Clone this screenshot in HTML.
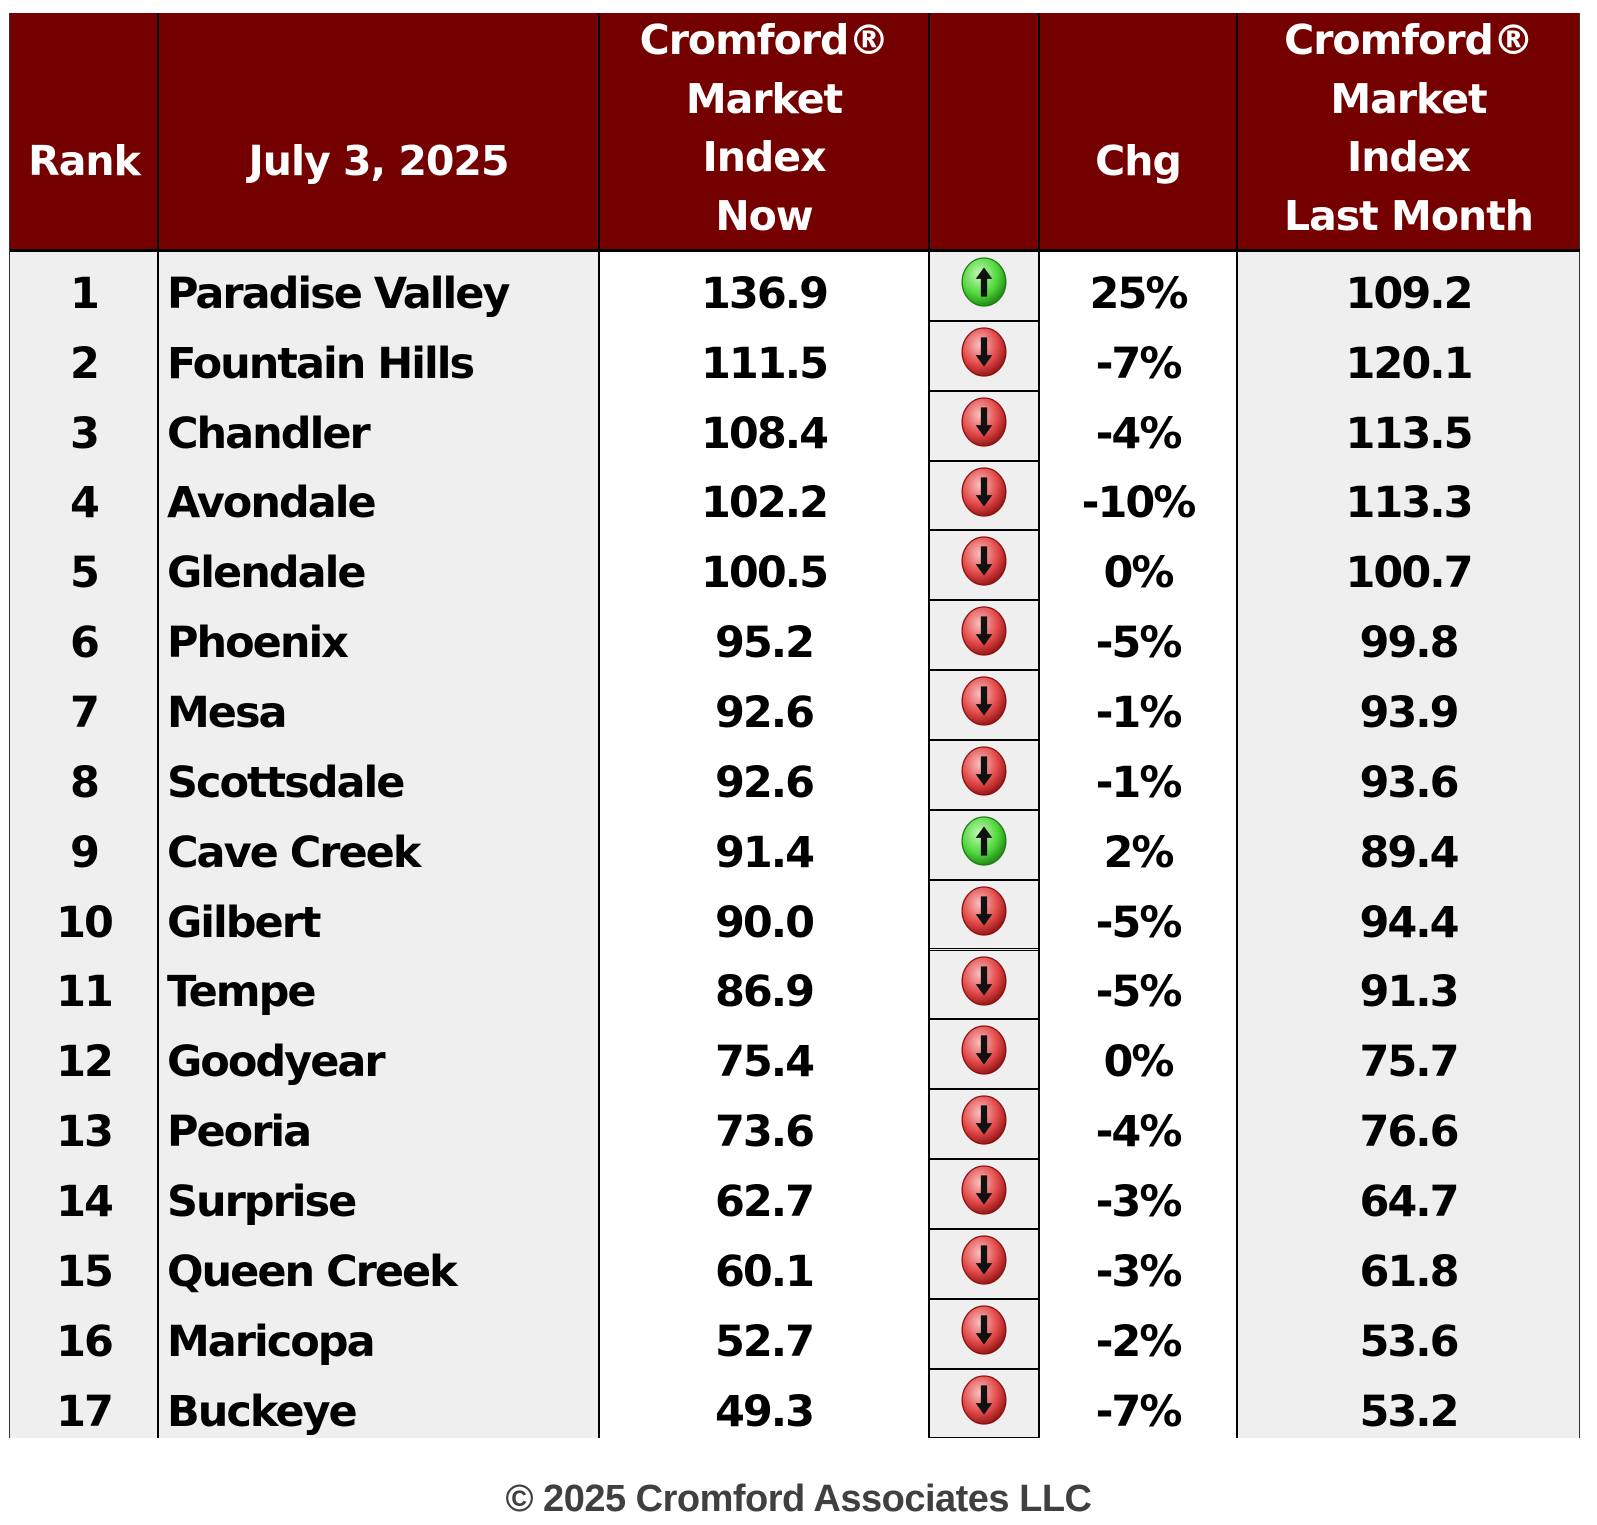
<!DOCTYPE html>
<html><head><meta charset="utf-8">
<style>
html,body{margin:0;padding:0;background:#fff;}
#wrap{position:relative;width:1597px;height:1525px;overflow:hidden;font-family:"DejaVu Sans","Liberation Sans",sans-serif;font-weight:bold;}
.cell{position:absolute;box-sizing:border-box;display:flex;align-items:center;justify-content:center;letter-spacing:-2px;color:#000;font-size:43px;}
.hdr{background:#750000;color:#fff;font-size:41px;line-height:58.5px;text-align:center;flex-direction:column;letter-spacing:-1px;}
.vline{position:absolute;background:#000;width:2px;}
.copy{position:absolute;left:0;width:1597px;top:1478px;text-align:center;font-family:"Liberation Sans",sans-serif;font-weight:bold;font-size:38px;color:#404040;letter-spacing:-0.5px;}
</style></head>
<body>
<div id="wrap">
<div class="copy">© 2025 Cromford Associates LLC</div>
</div>
<script>
const ranks=[1,2,3,4,5,6,7,8,9,10,11,12,13,14,15,16,17];
const cities=["Paradise Valley","Fountain Hills","Chandler","Avondale","Glendale","Phoenix","Mesa","Scottsdale","Cave Creek","Gilbert","Tempe","Goodyear","Peoria","Surprise","Queen Creek","Maricopa","Buckeye"];
const nowValues=[136.9,111.5,108.4,102.2,100.5,95.2,92.6,92.6,91.4,90.0,86.9,75.4,73.6,62.7,60.1,52.7,49.3];
const lastMonthValues=[109.2,120.1,113.5,113.3,100.7,99.8,93.9,93.6,89.4,94.4,91.3,75.7,76.6,64.7,61.8,53.6,53.2];
const changes=["25%","-7%","-4%","-10%","0%","-5%","-1%","-1%","2%","-5%","-5%","0%","-4%","-3%","-3%","-2%","-7%"];
const directions=["up","down","down","down","down","down","down","down","up","down","down","down","down","down","down","down","down"];
const headers=[["Rank"],["July 3, 2025"],["Cromford®","Market","Index","Now"],[],["Chg"],["Cromford®","Market","Index","Last Month"]];

const wrap=document.getElementById('wrap');
const colX=[10,158,599,929,1039,1237,1580];
const colBg=["#efefef","#efefef","#fff","#efefef","#fff","#efefef"];
const headTop=13, headBot=251, rowH=69.85, tableBot=1438;

function cell(x,y,w,h,cls,bg){
  const d=document.createElement('div');
  d.className='cell '+(cls||'');
  d.style.left=x+'px';d.style.top=y+'px';d.style.width=w+'px';d.style.height=h+'px';
  if(bg)d.style.background=bg;
  wrap.appendChild(d);return d;
}
const hn=['rank-header','date-header','index-now-header','icon-header','change-header','index-last-month-header'];
headers.forEach((lines,i)=>{
  const d=cell(colX[i],headTop,colX[i+1]-colX[i],headBot-headTop,'hdr');
  
  
  d.style.justifyContent='flex-end';d.style.paddingBottom='6px';
  if(i<2||i==4){d.style.justifyContent='center';d.style.paddingBottom='0';d.style.paddingTop='58px';}
  d.innerHTML=lines.map(l=>'<div>'+l+'</div>').join('');
});
for(let i=0;i<6;i++){
  const d=cell(colX[i],headBot,colX[i+1]-colX[i],tableBot-headBot,'',colBg[i]);
  
  
}
function icon(dir){
  const up=dir==='up';
  const c1=up?'#c8f9bb':'#f9c0c0',c2=up?'#4fd63a':'#e24848',c3=up?'#1d7d12':'#8a1010';
  const arrow=up?'M0,-14 L-8,-3 L-3,-3 L-3,14 L3,14 L3,-3 L8,-3 Z':'M0,14 L-8,3 L-3,3 L-3,-14 L3,-14 L3,3 L8,3 Z';
  return `<svg width="48" height="50" viewBox="-23 -24 46 48"><defs><radialGradient id="g${dir}" cx="40%" cy="35%" r="70%"><stop offset="0" stop-color="${c1}"/><stop offset="0.6" stop-color="${c2}"/><stop offset="1" stop-color="${c3}"/></radialGradient></defs><ellipse cx="0" cy="0" rx="21" ry="23" fill="url(#g${dir})" stroke="${c3}" stroke-width="1.2"/><path d="${arrow}" fill="#111"/></svg>`;
}
ranks.forEach((r,k)=>{
  const y=headBot+k*rowH, h=rowH;
  const pad='16px';
  let d=cell(colX[0],y,colX[1]-colX[0],h);d.style.paddingTop=pad;d.textContent=r;
  
  d=cell(colX[1],y,colX[2]-colX[1],h);d.style.paddingTop=pad;d.style.justifyContent='flex-start';d.style.paddingLeft='9px';d.textContent=cities[k];
  
  d=cell(colX[2],y,colX[3]-colX[2],h);d.style.paddingTop=pad;d.textContent=nowValues[k].toFixed(1);
  
  d=cell(colX[3],y,colX[4]-colX[3],h,'','#efefef');d.style.border='1.5px solid #000';d.style.alignItems='flex-start';d.style.paddingTop='5px';
  d.innerHTML=icon(directions[k]);
  
  d=cell(colX[4],y,colX[5]-colX[4],h);d.style.paddingTop=pad;d.textContent=changes[k];
  
  d=cell(colX[5],y,colX[6]-colX[5],h);d.style.paddingTop=pad;d.textContent=lastMonthValues[k].toFixed(1);
  
});
colX.forEach((x,i)=>{
  const v=document.createElement('div');v.className='vline';
  v.style.left=(x-1)+'px';v.style.top=headTop+'px';v.style.height=(tableBot-headTop)+'px';
  if(i===0||i===colX.length-1){v.style.width='1px';v.style.background='#333';}
  
  
  wrap.appendChild(v);
});
const hl=document.createElement('div');
hl.style.cssText='position:absolute;left:10px;top:249px;width:1570px;height:3px;background:#000;';


wrap.appendChild(hl);
</script>
</body></html>
